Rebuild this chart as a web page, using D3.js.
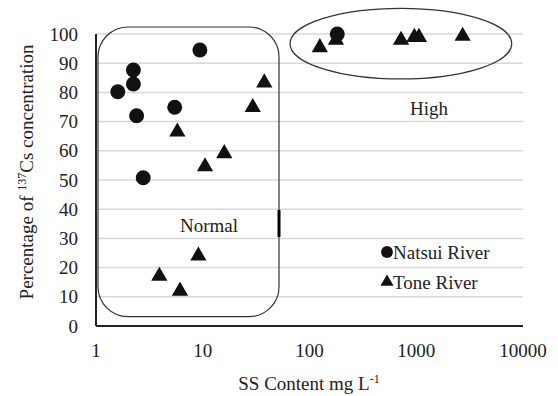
<!DOCTYPE html>
<html>
<head>
<meta charset="utf-8">
<script src="https://cdn.jsdelivr.net/npm/d3@7"></script>
<style>
  html, body { margin: 0; padding: 0; background: #fff; overflow: hidden; }
  svg { display: block; }
</style>
</head>
<body>
<svg id="chart" width="558" height="396"></svg>
<script>
// Natsui River (circles)
const natsuiSS = [1.6, 2.24, 2.24, 2.4, 2.77, 5.46, 9.4, 182];
const natsuiPct = [80.2, 87.7, 82.9, 72.0, 50.8, 74.9, 94.5, 100];

// Tone River (triangles)
const toneSS = [5.78, 10.5, 15.9, 29.4, 37.7, 3.92, 6.12, 9.1, 125, 177, 720, 960, 1060, 2720];
const tonePct = [66.5, 54.6, 59.1, 74.9, 83.3, 17.1, 12.0, 24.0, 95.4, 97.9, 97.9, 98.9, 98.9, 99.3];

const xTicks = [1, 10, 100, 1000, 10000];
const yTicks = [0, 10, 20, 30, 40, 50, 60, 70, 80, 90, 100];

const width = 558, height = 396;
const margin = { top: 34, right: 35, bottom: 70, left: 96 };
const innerWidth = width - margin.left - margin.right;
const innerHeight = height - margin.top - margin.bottom;
const FONT = '"Liberation Serif", "Times New Roman", "DejaVu Serif", serif';

const svg = d3.select('#chart')
  .attr('font-family', FONT)
  .style('font-family', FONT);

const xScale = d3.scaleLog().domain([1, 10000]).range([0, innerWidth]);
const yScale = d3.scaleLinear().domain([0, 100]).range([innerHeight, 0]);

const g = svg.append('g')
  .attr('transform', `translate(${margin.left},${margin.top})`);

// gridlines
g.append('g')
  .selectAll('line')
  .data(yTicks.filter(d => d > 0))
  .enter()
  .append('line')
  .attr('x1', 0)
  .attr('x2', innerWidth)
  .attr('y1', d => yScale(d))
  .attr('y2', d => yScale(d))
  .attr('stroke', '#d9d9d9')
  .attr('stroke-width', 1.5);

// y tick labels
g.append('g')
  .selectAll('text')
  .data(yTicks)
  .enter()
  .append('text')
  .attr('x', -18)
  .attr('y', d => yScale(d) + 6.5)
  .attr('text-anchor', 'end')
  .attr('fill', '#222')
  .style('font-size', '19px')
  .text(d => d);

// x tick labels
g.append('g')
  .selectAll('text')
  .data(xTicks)
  .enter()
  .append('text')
  .attr('x', d => xScale(d))
  .attr('y', innerHeight + 31)
  .attr('text-anchor', 'middle')
  .attr('fill', '#222')
  .style('font-size', '19px')
  .text(d => d);

// axis lines
g.append('line')
  .attr('x1', 0).attr('x2', 0)
  .attr('y1', 0).attr('y2', innerHeight)
  .attr('stroke', '#222').attr('stroke-width', 2);
g.append('line')
  .attr('x1', 0).attr('x2', innerWidth)
  .attr('y1', innerHeight).attr('y2', innerHeight)
  .attr('stroke', '#222').attr('stroke-width', 2);

// annotation: "Normal" rounded box
const boxX0 = xScale(1.044), boxX1 = xScale(51.8);
const boxY0 = yScale(102.4), boxY1 = yScale(3.2);
g.append('rect')
  .attr('x', boxX0)
  .attr('y', boxY0)
  .attr('width', boxX1 - boxX0)
  .attr('height', boxY1 - boxY0)
  .attr('rx', 30)
  .attr('ry', 30)
  .attr('fill', 'none')
  .attr('stroke', '#333')
  .attr('stroke-width', 1.2);

g.append('line')
  .attr('x1', boxX1).attr('x2', boxX1)
  .attr('y1', yScale(39.7)).attr('y2', yScale(30.5))
  .attr('stroke', '#000').attr('stroke-width', 3);

// annotation: "High" ellipse
const eX0 = xScale(65.7), eX1 = xScale(7840);
const eY0 = yScale(108.8), eY1 = yScale(84.6);
g.append('ellipse')
  .attr('cx', (eX0 + eX1) / 2)
  .attr('cy', (eY0 + eY1) / 2)
  .attr('rx', (eX1 - eX0) / 2)
  .attr('ry', (eY1 - eY0) / 2)
  .attr('fill', 'none')
  .attr('stroke', '#333')
  .attr('stroke-width', 1.2);

g.append('text')
  .attr('x', 429 - margin.left)
  .attr('y', 115 - margin.top)
  .attr('text-anchor', 'middle')
  .attr('fill', '#222')
  .style('font-size', '19px')
  .text('High');

g.append('text')
  .attr('x', 209 - margin.left)
  .attr('y', 232 - margin.top)
  .attr('text-anchor', 'middle')
  .attr('fill', '#222')
  .style('font-size', '19px')
  .text('Normal');

// markers
const circleSym = d3.symbol().type(d3.symbolCircle).size(175);
const triSym = d3.symbol().type(d3.symbolTriangle).size(115);

g.selectAll('.natsui')
  .data(natsuiSS.map((v, i) => [v, natsuiPct[i]]))
  .enter()
  .append('path')
  .attr('class', 'natsui')
  .attr('d', circleSym)
  .attr('transform', d => `translate(${xScale(d[0])},${yScale(d[1])})`)
  .attr('fill', '#111');

g.selectAll('.tone')
  .data(toneSS.map((v, i) => [v, tonePct[i]]))
  .enter()
  .append('path')
  .attr('class', 'tone')
  .attr('d', triSym)
  .attr('transform', d => `translate(${xScale(d[0])},${yScale(d[1])})`)
  .attr('fill', '#111');

// legend
const legend = g.append('g')
  .attr('transform', `translate(${387 - margin.left},${252 - margin.top})`);
legend.append('path')
  .attr('d', d3.symbol().type(d3.symbolCircle).size(110))
  .attr('fill', '#111');
legend.append('text')
  .attr('x', 6).attr('y', 6.5)
  .attr('fill', '#222')
  .style('font-size', '19px')
  .text('Natsui River');
legend.append('path')
  .attr('d', d3.symbol().type(d3.symbolTriangle).size(75))
  .attr('transform', 'translate(0,30)')
  .attr('fill', '#111');
legend.append('text')
  .attr('x', 6).attr('y', 36.5)
  .attr('fill', '#222')
  .style('font-size', '19px')
  .text('Tone River');

// axis titles
const xTitle = svg.append('text')
  .attr('x', 309)
  .attr('y', 390)
  .attr('text-anchor', 'middle')
  .attr('fill', '#222')
  .style('font-size', '19px');
xTitle.append('tspan').text('SS Content mg L');
xTitle.append('tspan').attr('dy', -7).style('font-size', '12px').text('-1');

const yTitle = svg.append('text')
  .attr('transform', 'translate(33,172) rotate(-90)')
  .attr('text-anchor', 'middle')
  .attr('fill', '#222')
  .style('font-size', '19px');
yTitle.append('tspan').text('Percentage of  ');
yTitle.append('tspan').attr('dy', -7).style('font-size', '12px').text('137');
yTitle.append('tspan').attr('dy', 7).text('Cs concentration');
</script>
</body>
</html>
